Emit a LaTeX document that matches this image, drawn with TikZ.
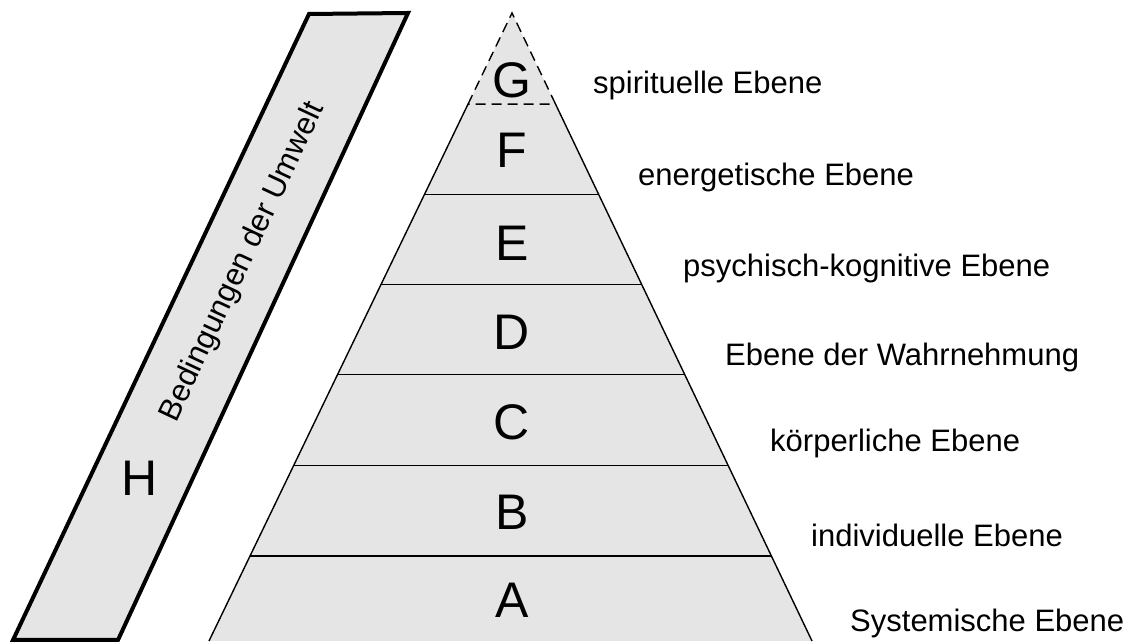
\documentclass[tikz,border=0pt]{standalone}
\usepackage{fontspec}
\setmainfont{Liberation Sans}
\usetikzlibrary{calc}
\begin{document}
\begin{tikzpicture}[x=1pt,y=1pt,
  fillgray/.style={fill=black!10},
  outline/.style={line width=1.4pt,black},
  letter/.style={font=\fontsize{50}{50}\selectfont,inner sep=0pt},
  levellabel/.style={font=\fontsize{31}{33}\selectfont,anchor=west,inner sep=0pt}]
\useasboundingbox (0,0) rectangle (1131,644);
% environment bar
\coordinate (p1) at (13,4);
\coordinate (p2) at (309,630);
\coordinate (p3) at (408,631);
\coordinate (p4) at (118,4);
\draw[fillgray,line width=4pt] (p1) -- (p2) -- (p3) -- (p4) -- cycle;
\node[font=\fontsize{31}{33}\selectfont,rotate=64.9] (env) at (243,382) {Bedingungen der Umwelt};
\node[letter] (H) at (140,166) {H};
% pyramid
\coordinate (apex) at (512,631);
\coordinate (bl) at (209,3);
\coordinate (br) at (812,3);
\fill[fillgray] (apex) -- (bl) -- (br) -- cycle;
\foreach \t/\n in {0.1451/1,0.2887/2,0.4322/3,0.5758/4,0.7209/5,0.8644/6}{
  \coordinate (l\n) at ($(apex)!\t!(bl)$);
  \coordinate (r\n) at ($(apex)!\t!(br)$);
}
\draw[outline,dash pattern=on 10pt off 6pt] (l1) -- (apex) -- (r1) -- cycle;
\draw[outline] (l1) -- (bl);
\draw[outline] (r1) -- (br);
\foreach \n in {2,...,6}{\draw[outline] (l\n) -- (r\n);}
% letters
\node[letter] (G) at (512,564) {G};
\node[letter] (F) at (512,494) {F};
\node[letter] (E) at (512,401) {E};
\node[letter] (D) at (512,312) {D};
\node[letter] (C) at (512,222) {C};
\node[letter] (B) at (512,132) {B};
\node[letter] (A) at (512,44) {A};
% labels
\node[levellabel] (lG) at (593,559) {spirituelle Ebene};
\node[levellabel] (lF) at (638,467) {energetische Ebene};
\node[levellabel] (lE) at (683,376) {psychisch-kognitive Ebene};
\node[levellabel] (lD) at (725,287) {Ebene der Wahrnehmung};
\node[levellabel] (lC) at (770,201) {körperliche Ebene};
\node[levellabel] (lB) at (811,109) {individuelle Ebene};
\node[levellabel] (lA) at (850,21) {Systemische Ebene};
\end{tikzpicture}
\end{document}
